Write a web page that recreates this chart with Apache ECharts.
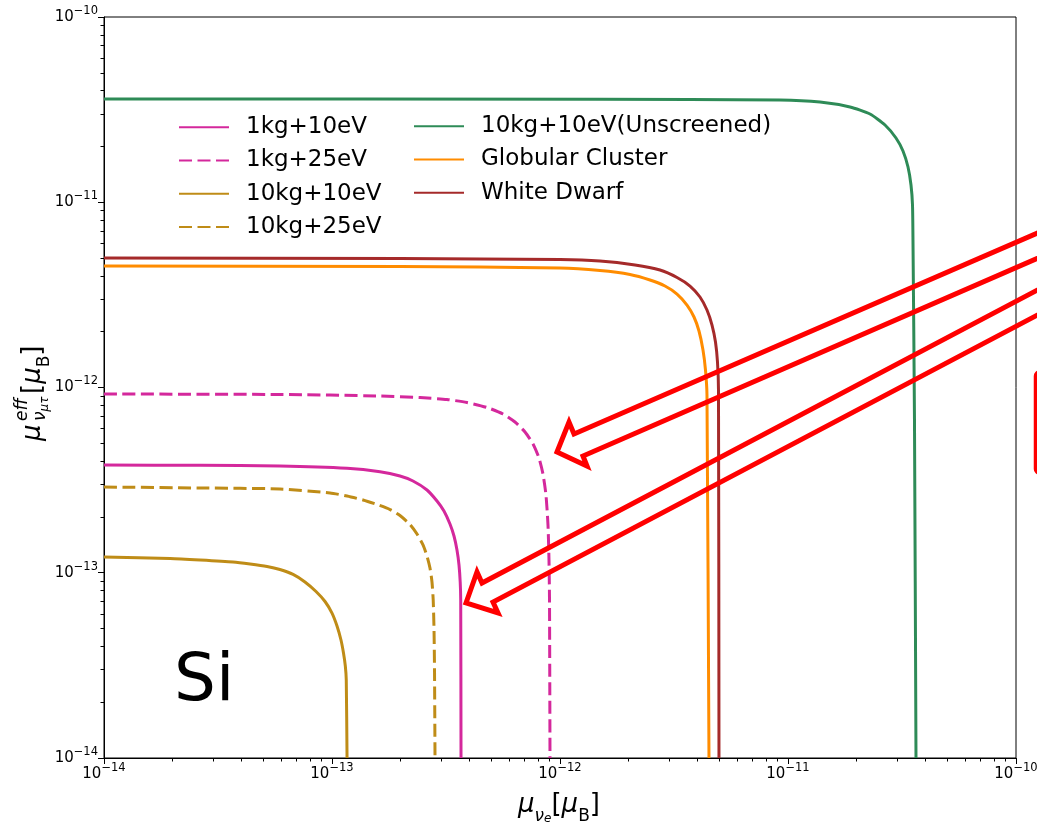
<!DOCTYPE html>
<html><head><meta charset="utf-8">
<script src="https://cdn.jsdelivr.net/npm/echarts@6/dist/echarts.min.js"></script>
<style>html,body{margin:0;padding:0;background:#fff}#c{width:1037px;height:822px}</style>
</head><body><div id="c"></div>
<script>
// ---- data ----
const seriesNames = ['1kg+10eV', '1kg+25eV', '10kg+10eV', '10kg+25eV', '10kg+10eV(Unscreened)', 'Globular Cluster', 'White Dwarf'];
const majorTicks = [1e-14, 1e-13, 1e-12, 1e-11, 1e-10];
const minorMultipliers = [2, 3, 4, 5, 6, 7, 8, 9];

const si1kg10eV = [[1e-14,3.815e-13],[2.64e-14,3.80e-13],[5.91e-14,3.768e-13],[1.164e-13,3.662e-13],[1.624e-13,3.511e-13],[1.987e-13,3.328e-13],[2.266e-13,3.128e-13],[2.610e-13,2.797e-13],[2.887e-13,2.439e-13],[3.098e-13,2.154e-13],[3.292e-13,1.833e-13],[3.428e-13,1.579e-13],[3.533e-13,1.327e-13],[3.606e-13,1.101e-13],[3.650e-13,8.915e-14],[3.669e-13,7.13e-14],[3.680e-13,1e-14]];
const si1kg25eV = [[1e-14,9.22e-13],[5.91e-14,9.17e-13],[1.624e-13,8.998e-13],[2.432e-13,8.83e-13],[3.194e-13,8.61e-13],[3.909e-13,8.30e-13],[4.785e-13,7.80e-13],[5.623e-13,7.19e-13],[6.347e-13,6.51e-13],[7.023e-13,5.75e-13],[7.614e-13,4.955e-13],[8.088e-13,4.163e-13],[8.421e-13,3.412e-13],[8.680e-13,2.628e-13],[8.858e-13,1.810e-13],[8.948e-13,1.172e-13],[8.994e-13,7.13e-14],[9.039e-13,1e-14]];
const si10kg10eV = [[1e-14,1.216e-13],[1.95e-14,1.194e-13],[2.64e-14,1.172e-13],[3.68e-14,1.143e-13],[4.37e-14,1.115e-13],[5.19e-14,1.081e-13],[5.91e-14,1.041e-13],[6.75e-14,9.79e-14],[7.61e-14,8.915e-14],[8.51e-14,7.92e-14],[9.32e-14,6.995e-14],[1.0e-13,6.06e-14],[1.052e-13,5.16e-14],[1.095e-13,4.335e-14],[1.123e-13,3.688e-14],[1.144e-13,3.138e-14],[1.155e-13,2.637e-14],[1.164e-13,1e-14]];
const si10kg25eV = [[1e-14,2.903e-13],[2.64e-14,2.868e-13],[5.91e-14,2.833e-13],[9.80e-14,2.696e-13],[1.164e-13,2.597e-13],[1.368e-13,2.470e-13],[1.576e-13,2.335e-13],[1.797e-13,2.194e-13],[1.987e-13,2.037e-13],[2.198e-13,1.822e-13],[2.360e-13,1.619e-13],[2.507e-13,1.412e-13],[2.610e-13,1.231e-13],[2.690e-13,1.061e-13],[2.745e-13,8.915e-14],[2.779e-13,7.13e-14],[2.802e-13,4.91e-14],[2.816e-13,2.985e-14],[2.830e-13,1e-14]];
const unscreened = [[1e-14,3.609e-11],[1.497e-12,3.595e-11],[9.22e-12,3.565e-11],[1.382e-11,3.477e-11],[1.870e-11,3.267e-11],[2.289e-11,2.995e-11],[2.664e-11,2.612e-11],[2.976e-11,2.222e-11],[3.194e-11,1.891e-11],[3.360e-11,1.550e-11],[3.463e-11,1.239e-11],[3.516e-11,9.665e-12],[3.533e-11,6.253e-12],[3.587e-11,6.68e-13],[3.642e-11,1e-14]];
const globularCluster = [[1e-14,4.528e-12],[1.987e-13,4.50e-12],[1e-12,4.417e-12],[1.497e-12,4.28e-12],[2.028e-12,4.074e-12],[2.481e-12,3.804e-12],[2.887e-12,3.53e-12],[3.260e-12,3.196e-12],[3.606e-12,2.787e-12],[3.870e-12,2.402e-12],[4.070e-12,2.018e-12],[4.238e-12,1.594e-12],[4.346e-12,1.243e-12],[4.412e-12,9.11e-13],[4.502e-12,1e-14]];
const whiteDwarf = [[1e-14,5.002e-12],[1.987e-13,4.97e-12],[1e-12,4.909e-12],[1.497e-12,4.818e-12],[2.133e-12,4.584e-12],[2.745e-12,4.306e-12],[3.260e-12,3.925e-12],[3.717e-12,3.53e-12],[4.111e-12,3.080e-12],[4.412e-12,2.62e-12],[4.642e-12,2.174e-12],[4.808e-12,1.760e-12],[4.906e-12,1.373e-12],[4.956e-12,9.69e-13],[4.981e-12,1e-14]];

const seriesData = [si1kg10eV, si1kg25eV, si10kg10eV, si10kg25eV, unscreened, globularCluster, whiteDwarf];
const seriesColors = ['#d4289c', '#d4289c', '#bf8c17', '#bf8c17', '#2e8b57', '#ff8c00', '#a52a2a'];
const seriesDashed = [false, true, false, true, false, false, false];

// ---- build ----
const minorTicks = [];
for (let d = 0; d < majorTicks.length - 1; d++) {
  minorMultipliers.forEach(m => minorTicks.push(m * majorTicks[d]));
}
const FONT = 'DejaVu Sans';
const DASH = [13, 5.5];

function expLabel(v) {
  const e = Math.round(Math.log10(v));
  return '{b|10}{s|' + (e < 0 ? '\u2212' : '') + Math.abs(e) + '}';
}
const tickRich = {
  b: { fontSize: 15, fontFamily: FONT, color: '#000', lineHeight: 24 },
  s: { fontSize: 11.5, fontFamily: FONT, color: '#000', lineHeight: 12, verticalAlign: 'top' }
};

function makeAxis(isX, minor) {
  const ax = {
    type: 'log', logBase: 10, min: 1e-14, max: 1e-10, gridIndex: 0,
    position: isX ? 'bottom' : 'left',
    splitLine: { show: false },
    minorTick: { show: false },
    axisLine: { show: !minor, lineStyle: { color: '#000', width: 1 } },
    axisTick: { show: true, inside: false, length: minor ? 3.5 : 6, lineStyle: { color: '#000', width: 1 } },
    axisLabel: minor ? { show: false } : {
      show: true, margin: isX ? 4 : 6, formatter: expLabel, rich: tickRich, color: '#000'
    },
    silent: true
  };
  if (minor) ax.axisTick.customValues = minorTicks;
  return ax;
}

const series = seriesNames.map((n, i) => ({
  name: n, type: 'line', data: seriesData[i],
  xAxisIndex: 0, yAxisIndex: 0,
  symbol: 'none', showSymbol: false, smooth: 0.2,
  lineStyle: { color: seriesColors[i], width: 3, type: seriesDashed[i] ? DASH : 'solid', join: 'round' },
  itemStyle: { color: seriesColors[i] },
  animation: false, z: 2 + i
}));

const legendCommon = {
  orient: 'vertical', itemWidth: 50, itemHeight: 14, itemGap: 7, padding: 0,
  selectedMode: false,
  itemStyle: { color: 'rgba(0,0,0,0)', borderWidth: 0, opacity: 0 },
  textStyle: { fontSize: 23, fontFamily: FONT, color: '#000', lineHeight: 26.3, padding: [0, 0, 0, 12] }
};

const chart = echarts.init(document.getElementById('c'), null, { renderer: 'canvas' });
chart.setOption({
  animation: false,
  backgroundColor: '#fff',
  grid: { left: 104, top: 17, right: 21, bottom: 64, outerBoundsMode: 'none', containLabel: false,
          show: true, borderColor: '#000', borderWidth: 1, backgroundColor: 'transparent' },
  xAxis: [makeAxis(true, false), makeAxis(true, true)],
  yAxis: [makeAxis(false, false), makeAxis(false, true)],
  legend: [
    Object.assign({}, legendCommon, { data: seriesNames.slice(0, 4), left: 178, top: 114 }),
    Object.assign({}, legendCommon, { data: seriesNames.slice(4), left: 413, top: 113 })
  ],
  series: series,
  graphic: [
    { type: 'text', left: 174, top: 650, silent: true,
      style: { text: 'Si', fontSize: 66, fontFamily: FONT, fill: '#000' } },
    { type: 'text', x: 559, y: 805, silent: true,
      style: {
        text: '{i|\u03bc}{sub|\u03bd}{ss|e}{n|[}{i|\u03bc}{sr|B}{n|]}',
        align: 'center', verticalAlign: 'middle',
        rich: {
          i: { fontSize: 26, fontStyle: 'italic', fontFamily: FONT, fill: '#000', lineHeight: 40 },
          n: { fontSize: 26, fontFamily: FONT, fill: '#000', lineHeight: 40 },
          sub: { fontSize: 17, fontStyle: 'italic', fontFamily: FONT, fill: '#000', lineHeight: 26, verticalAlign: 'bottom' },
          ss: { fontSize: 12, fontStyle: 'italic', fontFamily: FONT, fill: '#000', lineHeight: 14, verticalAlign: 'bottom' },
          sr: { fontSize: 17, fontFamily: FONT, fill: '#000', lineHeight: 26, verticalAlign: 'bottom' }
        }
      } },
    { type: 'group', x: 33, y: 441, rotation: Math.PI / 2, silent: true,
      children: [
        { type: 'text', x: 0, y: 0, style: { text: '\u03bc', fontSize: 26, fontStyle: 'italic', fontFamily: FONT, fill: '#000', align: 'left', verticalAlign: 'middle' } },
        { type: 'text', x: 20, y: -10, style: { text: 'eff', fontSize: 17, fontStyle: 'italic', fontFamily: FONT, fill: '#000', align: 'left', verticalAlign: 'middle' } },
        { type: 'text', x: 20, y: 8, style: { text: '{a|\u03bd}{b|\u03bc\u03c4}', align: 'left', verticalAlign: 'middle',
            rich: { a: { fontSize: 17, fontStyle: 'italic', fontFamily: FONT, fill: '#000', lineHeight: 20 },
                    b: { fontSize: 12, fontStyle: 'italic', fontFamily: FONT, fill: '#000', lineHeight: 11, verticalAlign: 'bottom' } } } },
        { type: 'text', x: 47, y: 0, style: { text: '{n|[}{i|\u03bc}{sr|B}{n|]}', align: 'left', verticalAlign: 'middle',
            rich: {
              i: { fontSize: 26, fontStyle: 'italic', fontFamily: FONT, fill: '#000', lineHeight: 40 },
              n: { fontSize: 26, fontFamily: FONT, fill: '#000', lineHeight: 40 },
              sr: { fontSize: 17, fontFamily: FONT, fill: '#000', lineHeight: 26, verticalAlign: 'bottom' }
            } } }
      ] },
    // red annotation arrows (outline only) and box
    { type: 'polygon', silent: true, z: 100,
      shape: { points: [[557,452],[569,422],[574,434],[1100,206],[1100,231],[583,456],[587,466]] },
      style: { fill: 'none', stroke: '#ff0000', lineWidth: 5, lineJoin: 'miter' } },
    { type: 'polygon', silent: true, z: 100,
      shape: { points: [[466,603],[477,572],[482,583],[1100,257],[1100,282],[493,602],[498,613]] },
      style: { fill: 'none', stroke: '#ff0000', lineWidth: 5, lineJoin: 'miter' } },
    { type: 'rect', silent: true, z: 100,
      shape: { x: 1035.5, y: 372, width: 80, height: 101, r: 4 },
      style: { fill: 'none', stroke: '#ff0000', lineWidth: 3.5 } }
  ]
});
</script>
</body></html>
